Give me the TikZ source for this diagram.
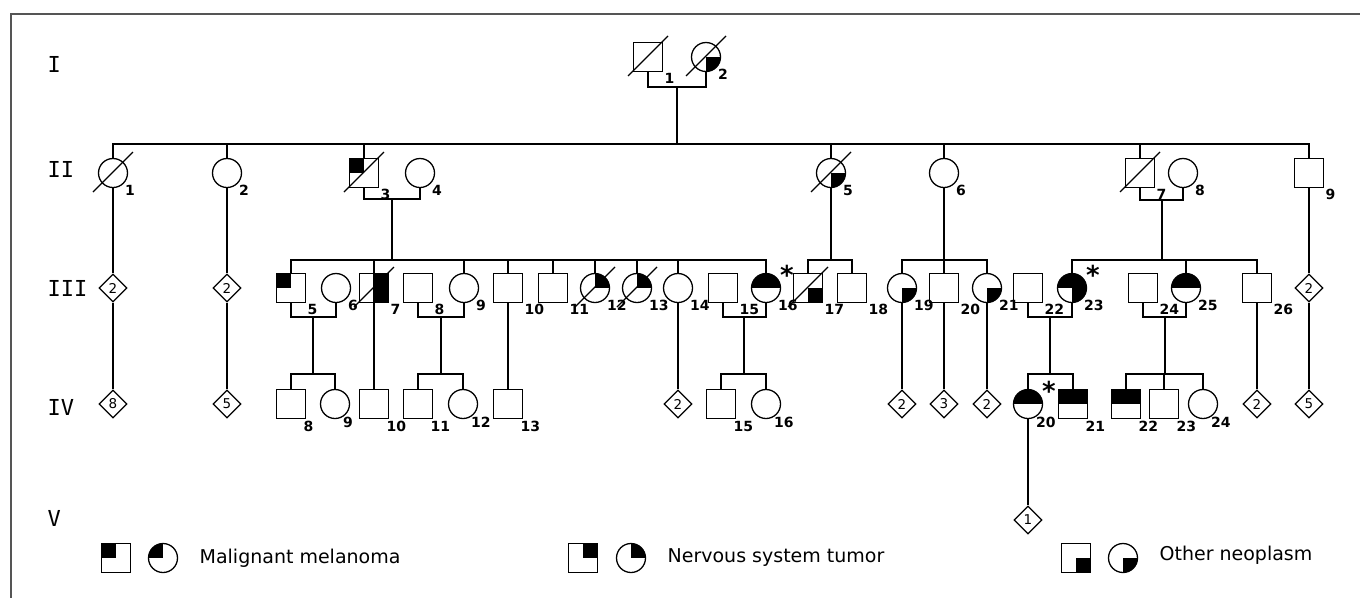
\documentclass[tikz,border=0pt]{standalone}
\usepackage{fontspec}
\setmainfont{DejaVu Sans}
\newfontfamily\genfont{DejaVu Sans Mono}
\usetikzlibrary{shapes.geometric,calc}
\definecolor{framegray}{RGB}{85,85,85}

\begin{document}
\begin{tikzpicture}[x=1pt,y=-1pt,line width=1.3pt,label distance=1pt,
  aff/.style={path picture={\foreach \q in {#1} {\fill (path picture bounding box.center) rectangle (path picture bounding box.\q);}}},
  lbl/.style={label={[num]-45:#1}},
  lbliv/.style={label={[num,anchor=north west,xshift=-4pt,yshift=-1pt]-45:#1}},
  proband/.style={label={[ast,xshift=2pt,yshift=-9pt]45:*}}]
\tikzstyle{male}=[draw,rectangle,minimum size=29pt,inner sep=0pt]
\tikzstyle{female}=[draw,circle,minimum size=29pt,inner sep=0pt]
\tikzstyle{unk}=[draw,diamond,minimum width=28pt,minimum height=28pt,inner sep=0pt,font=\fontsize{13.5}{13.5}\selectfont]
\tikzstyle{num}=[inner sep=0pt,font=\fontsize{14}{14}\selectfont\bfseries]
\tikzstyle{ast}=[inner sep=0pt,font=\fontsize{26}{26}\selectfont\bfseries]
\tikzstyle{gen}=[anchor=west,inner sep=0pt,font=\genfont\fontsize{22}{22}\selectfont]
\tikzstyle{legend}=[anchor=west,inner sep=0pt,font=\fontsize{19}{19}\selectfont]

\useasboundingbox (0,0) rectangle (1360,598);
\draw[framegray,line width=1.4pt] (1360,14) -- (11,14) -- (11,598);

% generation labels
\node[gen] (gI) at (47,64) {I};
\node[gen] (gII) at (47,169) {II};
\node[gen] (gIII) at (47,288) {III};
\node[gen] (gIV) at (47,407) {IV};
\node[gen] (gV) at (47,518) {V};

% generation I
\node[male,lbl=1] (I1) at (648,57) {};
\node[female,aff={south east},lbl=2] (I2) at (706,57) {};

% generation II
\node[female,lbl=1] (II1) at (113,173) {};
\node[female,lbl=2] (II2) at (227,173) {};
\node[male,aff={north west},lbl=3] (II3) at (364,173) {};
\node[female,lbl=4] (II4) at (420,173) {};
\node[female,aff={south east},lbl=5] (II5) at (831,173) {};
\node[female,lbl=6] (II6) at (944,173) {};
\node[male,lbl=7] (II7) at (1140,173) {};
\node[female,lbl=8] (II8) at (1183,173) {};
\node[male,lbl=9] (II9) at (1309,173) {};

% generation III
\node[unk] (u31) at (113,288) {2};
\node[unk] (u32) at (227,288) {2};
\node[male,aff={north west},lbl=5] (III5) at (291,288) {};
\node[female,lbl=6] (III6) at (336,288) {};
\node[male,aff={north east,south east},lbl=7] (III7) at (374,288) {};
\node[male,lbl=8] (III8) at (418,288) {};
\node[female,lbl=9] (III9) at (464,288) {};
\node[male,lbl=10] (III10) at (508,288) {};
\node[male,lbl=11] (III11) at (553,288) {};
\node[female,aff={north east},lbl=12] (III12) at (595,288) {};
\node[female,aff={north east},lbl=13] (III13) at (637,288) {};
\node[female,lbl=14] (III14) at (678,288) {};
\node[male,lbl=15] (III15) at (723,288) {};
\node[female,aff={north west,north east},lbl=16,proband] (III16) at (766,288) {};
\node[male,aff={south east},lbl=17] (III17) at (808,288) {};
\node[male,lbl=18] (III18) at (852,288) {};
\node[female,aff={south east},lbl=19] (III19) at (902,288) {};
\node[male,lbl=20] (III20) at (944,288) {};
\node[female,aff={south east},lbl=21] (III21) at (987,288) {};
\node[male,lbl=22] (III22) at (1028,288) {};
\node[female,aff={north west,north east,south east},lbl=23,proband] (III23) at (1072,288) {};
\node[male,lbl=24] (III24) at (1143,288) {};
\node[female,aff={north west,north east},lbl=25] (III25) at (1186,288) {};
\node[male,lbl=26] (III26) at (1257,288) {};
\node[unk] (u33) at (1309,288) {2};

% generation IV
\node[unk] (u41) at (113,404) {8};
\node[unk] (u42) at (227,404) {5};
\node[male,lbliv=8] (IV8) at (291,404) {};
\node[female,lbliv=9] (IV9) at (335,404) {};
\node[male,lbliv=10] (IV10) at (374,404) {};
\node[male,lbliv=11] (IV11) at (418,404) {};
\node[female,lbliv=12] (IV12) at (463,404) {};
\node[male,lbliv=13] (IV13) at (508,404) {};
\node[unk] (u43) at (678,404) {2};
\node[male,lbliv=15] (IV15) at (721,404) {};
\node[female,lbliv=16] (IV16) at (766,404) {};
\node[unk] (u44) at (902,404) {2};
\node[unk] (u45) at (944,404) {3};
\node[unk] (u46) at (987,404) {2};
\node[female,aff={north west,north east},lbliv=20,proband] (IV20) at (1028,404) {};
\node[male,aff={north west,north east},lbliv=21] (IV21) at (1073,404) {};
\node[male,aff={north west,north east},lbliv=22] (IV22) at (1126,404) {};
\node[male,lbliv=23] (IV23) at (1164,404) {};
\node[female,lbliv=24] (IV24) at (1203,404) {};
\node[unk] (u47) at (1257,404) {2};
\node[unk] (u48) at (1309,404) {5};

% generation V
\node[unk] (u51) at (1028,520) {1};

% deceased
\foreach \d in {I1,I2,II1,II3,II5,II7,III7,III12,III13,III17}
  \draw (\d.center) ++(-20,19) -- ++(40,-40);

% matings and sibships
\coordinate (fI) at (677,87); \coordinate (sII) at (677,144);
\draw (I1) |- (fI) -| (I2); \draw (fI) -- (sII);
\foreach \k in {II1,II2,II3,II5,II6,II7,II9} \draw (\k) |- (sII);

\coordinate (f34) at (392,199); \coordinate (s34) at (392,260);
\draw (II3) |- (f34) -| (II4); \draw (f34) -- (s34);
\foreach \k in {III5,III7,III9,III10,III11,III12,III13,III14,III16} \draw (\k) |- (s34);

\coordinate (s5) at (831,260);
\draw (II5) -- (s5);
\foreach \k in {III17,III18} \draw (\k) |- (s5);

\coordinate (s6) at (944,260);
\draw (II6) -- (s6);
\foreach \k in {III19,III20,III21} \draw (\k) |- (s6);

\coordinate (f78) at (1162,200); \coordinate (s78) at (1162,260);
\draw (II7) |- (f78) -| (II8); \draw (f78) -- (s78);
\foreach \k in {III23,III25,III26} \draw (\k) |- (s78);

\coordinate (f56) at (313,317); \coordinate (s56) at (313,374);
\draw (III5) |- (f56) -| (III6); \draw (f56) -- (s56);
\foreach \k in {IV8,IV9} \draw (\k) |- (s56);

\coordinate (f89) at (441,317); \coordinate (s89) at (441,374);
\draw (III8) |- (f89) -| (III9); \draw (f89) -- (s89);
\foreach \k in {IV11,IV12} \draw (\k) |- (s89);

\coordinate (f1516) at (744,317); \coordinate (s1516) at (744,374);
\draw (III15) |- (f1516) -| (III16); \draw (f1516) -- (s1516);
\foreach \k in {IV15,IV16} \draw (\k) |- (s1516);

\coordinate (f2223) at (1050,317); \coordinate (s2223) at (1050,374);
\draw (III22) |- (f2223) -| (III23); \draw (f2223) -- (s2223);
\foreach \k in {IV20,IV21} \draw (\k) |- (s2223);

\coordinate (f2425) at (1165,317); \coordinate (s2425) at (1165,374);
\draw (III24) |- (f2425) -| (III25); \draw (f2425) -- (s2425);
\foreach \k in {IV22,IV23,IV24} \draw (\k) |- (s2425);

% single lines of descent
\draw (II1) -- (u31) -- (u41);
\draw (II2) -- (u32) -- (u42);
\draw (II9) -- (u33) -- (u48);
\draw (III7.north) -- (IV10);
\draw (III10) -- (IV13);
\draw (III14) -- (u43);
\draw (III19) -- (u44); \draw (III20) -- (u45); \draw (III21) -- (u46);
\draw (III26) -- (u47);
\draw (IV20) -- (u51);

% key
\node[male,aff={north west}] (kmm1) at (116,558) {};
\node[female,aff={north west}] (kmm2) at (163,558) {};
\node[legend] (kmm) at (199,558) {Malignant melanoma};
\node[male,aff={north east}] (kns1) at (583,558) {};
\node[female,aff={north east}] (kns2) at (631,558) {};
\node[legend] (kns) at (667,558) {Nervous system tumor};
\node[male,aff={south east}] (kon1) at (1076,558) {};
\node[female,aff={south east}] (kon2) at (1123,558) {};
\node[legend] (kon) at (1159,555) {Other neoplasm};
\end{tikzpicture}
\end{document}
